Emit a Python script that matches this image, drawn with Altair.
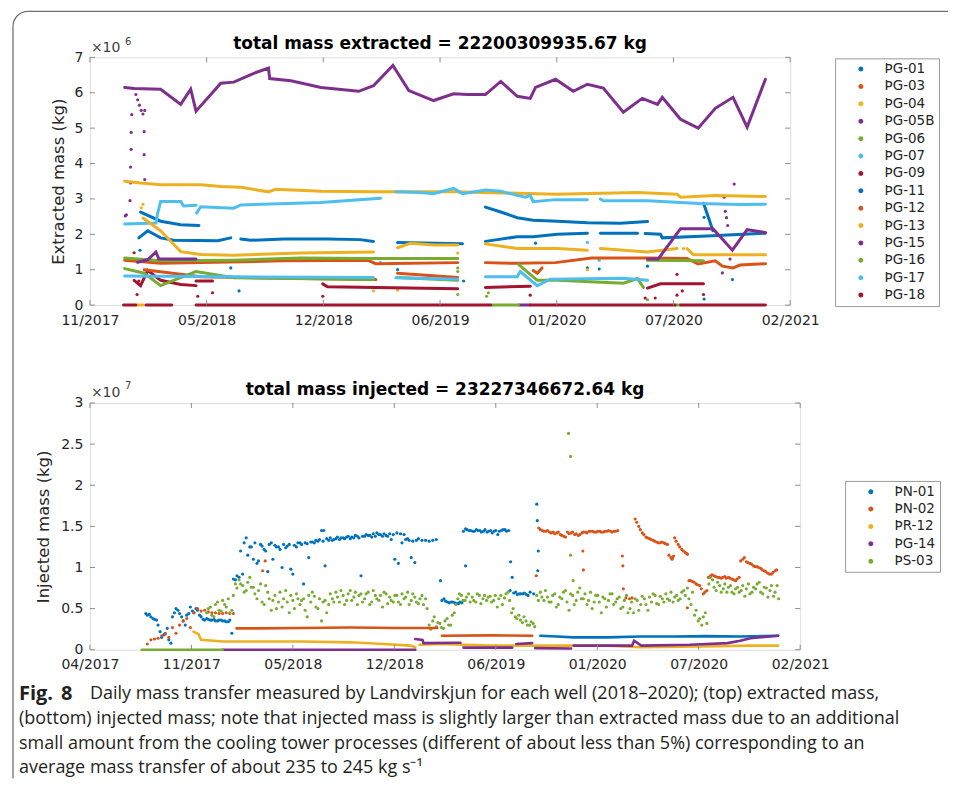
import altair as alt
import pandas as pd

# ------------------------------------------------------------------ categories / colours
TOP_WELLS = ["ÞG-01", "ÞG-03", "ÞG-04", "ÞG-05B", "ÞG-06", "ÞG-07", "ÞG-09",
             "ÞG-11", "ÞG-12", "ÞG-13", "ÞG-15", "ÞG-16", "ÞG-17", "ÞG-18"]
BOT_WELLS = ["ÞN-01", "ÞN-02", "ÞR-12", "ÞG-14", "ÞS-03"]
MATLAB_COLORS = ["#0072BD", "#D95319", "#EDB120", "#7E2F8E", "#77AC30", "#4DBEEE", "#A2142F"]
TOP_COLORS = MATLAB_COLORS + MATLAB_COLORS
BOT_COLORS = MATLAB_COLORS[:5]

# ------------------------------------------------------------------ axes
TOP_X_RANGE = ["2017-11-01", "2021-02-01"]
BOT_X_RANGE = ["2017-04-17", "2021-02-01"]
TOP_TICK_DATES = ["2017-11-01", "2018-05-18", "2018-12-02", "2019-06-18",
                  "2020-01-02", "2020-07-18", "2021-02-01"]
BOT_TICK_DATES = ["2017-04-17"] + TOP_TICK_DATES
TOP_Y_TICKS = [0, 1, 2, 3, 4, 5, 6, 7]          # x 10^6 kg
BOT_Y_TICKS = [0, 0.5, 1, 1.5, 2, 2.5, 3]       # x 10^7 kg

TOP_TITLE = "total mass extracted = 22200309935.67 kg"
BOT_TITLE = "total mass injected = 23227346672.64 kg"
TOP_YLABEL = "Extracted mass (kg)"
BOT_YLABEL = "Injected mass (kg)"
CAPTION_BOLD = ["Fig.", "8"]
CAPTION_LINES = [
    "Daily mass transfer measured by Landvirskjun for each well (2018–2020); (top) extracted mass,",
    "(bottom) injected mass; note that injected mass is slightly larger than extracted mass due to an additional",
    "small amount from the cooling tower processes (different of about less than 5%) corresponding to an",
    "average mass transfer of about 235 to 245 kg s⁻¹",
]

# ------------------------------------------------------------------ top panel: extracted mass (x 10^6 kg)
pg01_lines = [
    [("2018-01-26", 2.63), ("2018-03-01", 2.37), ("2018-04-04", 2.27), ("2018-05-05", 2.25)],
    [("2019-09-03", 2.77), ("2019-09-29", 2.63), ("2019-10-27", 2.47), ("2019-11-23", 2.40),
     ("2020-01-03", 2.37), ("2020-02-23", 2.33), ("2020-04-19", 2.31), ("2020-06-04", 2.36)],
    [("2020-09-07", 2.88), ("2020-09-23", 2.10)],
]
pg03_lines = [
    [("2017-12-30", 1.27), ("2018-03-01", 1.18), ("2018-05-08", 1.20), ("2018-09-26", 1.25),
     ("2019-02-15", 1.27), ("2019-03-01", 1.17), ("2019-07-18", 1.20)],
    [("2019-09-03", 1.20), ("2019-10-27", 1.18), ("2019-12-31", 1.20), ("2020-03-01", 1.33),
     ("2020-06-04", 1.33), ("2020-08-10", 1.32), ("2020-08-29", 1.16), ("2020-09-27", 1.25),
     ("2020-10-09", 1.10), ("2020-10-27", 1.05), ("2020-11-08", 1.13), ("2020-12-21", 1.17)],
]
pg04_lines = [
    [("2017-12-30", 3.50), ("2018-01-26", 3.45), ("2018-03-01", 3.40), ("2018-05-08", 3.40),
     ("2018-06-11", 3.35), ("2018-07-15", 3.33), ("2018-08-31", 3.20), ("2018-09-12", 3.27),
     ("2018-11-28", 3.22), ("2019-02-25", 3.20), ("2019-07-11", 3.20), ("2019-09-29", 3.17),
     ("2019-12-31", 3.13), ("2020-05-18", 3.18), ("2020-07-24", 3.13), ("2020-07-30", 3.05),
     ("2020-09-27", 3.10), ("2020-12-21", 3.07)],
]
pg05b_lines = [
    [("2017-12-30", 6.15), ("2018-01-15", 6.12), ("2018-03-01", 6.10), ("2018-04-04", 5.67),
     ("2018-04-21", 6.10), ("2018-04-30", 5.48), ("2018-06-11", 6.27), ("2018-07-03", 6.30),
     ("2018-08-06", 6.55), ("2018-08-31", 6.70), ("2018-09-02", 6.40), ("2018-10-08", 6.34),
     ("2018-11-28", 6.15), ("2019-01-31", 6.04), ("2019-02-25", 6.20), ("2019-03-30", 6.77),
     ("2019-04-26", 6.06), ("2019-06-07", 5.78), ("2019-07-11", 5.97), ("2019-08-04", 5.95),
     ("2019-09-03", 5.95), ("2019-09-29", 6.32), ("2019-10-27", 5.90), ("2019-11-18", 5.84),
     ("2019-11-27", 6.15), ("2019-12-31", 6.38), ("2020-01-30", 6.04), ("2020-02-23", 6.24),
     ("2020-03-21", 6.13), ("2020-04-24", 5.45), ("2020-05-26", 5.84), ("2020-06-21", 5.67),
     ("2020-06-29", 5.87), ("2020-07-30", 5.25), ("2020-08-29", 5.00), ("2020-09-27", 5.56),
     ("2020-10-27", 5.87), ("2020-11-20", 5.03), ("2020-12-21", 6.38)],
]
pg06_lines = [
    [("2017-12-30", 1.33), ("2018-03-01", 1.25), ("2018-07-03", 1.27), ("2018-10-25", 1.33),
     ("2019-02-15", 1.32), ("2019-07-18", 1.32)],
    [("2020-06-04", 1.27), ("2020-09-07", 1.25)],
]
pg07_lines = [
    [("2017-12-30", 2.29), ("2018-02-21", 2.32), ("2018-02-24", 2.60), ("2018-03-01", 2.93),
     ("2018-04-04", 2.93), ("2018-04-09", 2.80), ("2018-04-30", 2.82)],
    [("2018-05-01", 2.60), ("2018-05-08", 2.78), ("2018-07-03", 2.74), ("2018-07-15", 2.83),
     ("2018-11-28", 2.90), ("2019-03-09", 3.02)],
    [("2019-04-04", 3.20), ("2019-05-16", 3.18), ("2019-06-07", 3.15), ("2019-07-11", 3.30),
     ("2019-07-26", 3.15), ("2019-09-03", 3.25), ("2019-09-29", 3.22), ("2019-10-27", 3.10),
     ("2019-11-10", 3.05), ("2019-11-18", 3.10), ("2019-11-23", 2.92), ("2019-12-31", 2.98),
     ("2020-02-23", 2.98)],
    [("2020-03-16", 3.00), ("2020-03-21", 2.95), ("2020-06-04", 2.95), ("2020-07-30", 2.90),
     ("2020-09-01", 2.87), ("2020-11-08", 2.84), ("2020-12-21", 2.85)],
]
pg09_lines = [
    [("2018-01-15", 0.70), ("2018-01-26", 0.55), ("2018-02-07", 0.98), ("2018-03-01", 0.70),
     ("2018-04-04", 0.58), ("2018-04-30", 0.55)],
    [("2018-04-30", 0.68), ("2018-05-28", 0.68)],
]
pg11_lines = [
    [("2018-01-23", 1.90), ("2018-02-07", 2.10), ("2018-03-01", 1.90), ("2018-03-23", 1.83),
     ("2018-06-06", 1.82), ("2018-06-28", 1.90)],
    [("2018-07-15", 1.87), ("2018-08-01", 1.83), ("2018-09-26", 1.87), ("2018-12-09", 1.87),
     ("2019-02-03", 1.85), ("2019-02-25", 1.80)],
    [("2019-04-07", 1.77), ("2019-07-26", 1.73)],
    [("2019-09-03", 1.80), ("2019-10-27", 1.93), ("2019-11-23", 1.93), ("2020-01-03", 2.00),
     ("2020-02-23", 2.03)],
    [("2020-03-16", 2.03), ("2020-05-18", 2.03)],
    [("2020-05-31", 2.02), ("2020-06-26", 2.00), ("2020-06-29", 1.90), ("2020-09-13", 1.95),
     ("2020-12-21", 2.03)],
]
pg12_lines = [
    [("2018-02-01", 1.00), ("2018-05-08", 0.80), ("2018-10-25", 0.75), ("2019-03-01", 0.72)],
    [("2019-04-07", 0.90), ("2019-07-18", 0.78)],
    [("2019-11-23", 0.98), ("2019-11-30", 0.90), ("2019-12-08", 1.05)],
]
pg13_lines = [
    [("2018-01-30", 2.46), ("2018-03-01", 2.10), ("2018-04-04", 1.51), ("2018-05-08", 1.43),
     ("2018-07-03", 1.41), ("2018-10-25", 1.47), ("2019-02-25", 1.50)],
    [("2019-04-07", 1.62), ("2019-04-29", 1.75), ("2019-06-07", 1.70), ("2019-07-18", 1.70)],
    [("2019-09-03", 1.73), ("2019-10-27", 1.60), ("2020-01-03", 1.60), ("2020-02-23", 1.55)],
    [("2020-03-16", 1.60), ("2020-06-04", 1.50), ("2020-07-24", 1.60)],
    [("2020-08-10", 1.60), ("2020-08-21", 1.42), ("2020-12-21", 1.42)],
    [("2018-01-18", 0.0), ("2018-01-30", 0.0)],
]
pg15_lines = [
    [("2018-01-21", 1.21), ("2018-02-07", 1.28), ("2018-02-21", 1.50), ("2018-02-26", 1.30),
     ("2018-04-30", 1.30)],
    [("2020-06-04", 1.30), ("2020-06-22", 1.30), ("2020-07-30", 2.16), ("2020-09-23", 2.16),
     ("2020-10-26", 1.55), ("2020-11-20", 2.13), ("2020-12-21", 2.05)],
    [("2019-10-29", 0.0), ("2019-11-18", 0.0)],
]
pg16_lines = [
    [("2017-12-30", 1.03), ("2018-02-01", 0.90), ("2018-03-01", 0.55), ("2018-04-30", 0.95),
     ("2018-07-03", 0.77), ("2019-02-25", 0.72)],
    [("2019-04-07", 0.78), ("2019-07-18", 0.70)],
    [("2019-10-29", 1.15), ("2019-11-30", 0.70), ("2020-01-03", 0.70), ("2020-04-24", 0.62),
     ("2020-05-18", 0.75), ("2020-05-28", 0.50)],
    [("2019-09-12", 0.0), ("2019-10-29", 0.0)],
    [("2020-07-21", 0.0), ("2020-07-30", 0.0)],
]
pg17_lines = [
    [("2017-12-30", 0.82), ("2018-07-03", 0.80), ("2019-02-25", 0.78)],
    [("2019-04-04", 0.77), ("2019-07-18", 0.73)],
    [("2019-09-03", 0.80), ("2019-10-27", 0.80), ("2019-11-01", 0.95), ("2019-11-30", 0.55),
     ("2019-12-22", 0.73), ("2020-04-24", 0.76), ("2020-06-04", 0.70)],
]
pg18_lines = [
    [("2018-12-01", 0.60), ("2018-12-09", 0.52), ("2019-07-18", 0.46)],
    [("2019-09-03", 0.50), ("2019-11-18", 0.53)],
    [("2020-06-04", 0.48), ("2020-06-26", 0.60), ("2020-07-24", 0.60), ("2020-09-07", 0.60)],
    [("2017-12-28", 0.0), ("2018-01-18", 0.0)],
    [("2018-02-04", 0.0), ("2018-03-20", 0.0)],
    [("2018-04-30", 0.0), ("2019-09-12", 0.0)],
    [("2019-11-18", 0.0), ("2020-07-21", 0.0)],
    [("2020-07-30", 0.0), ("2020-12-21", 0.0)],
]

# isolated daily values (x 10^6 kg)
pg05b_points = [("2018-01-11", 5.38), ("2018-01-10", 4.88), ("2018-01-10", 4.40), ("2018-01-09", 3.90),
                ("2018-01-09", 3.45), ("2018-01-08", 2.95), ("2018-01-02", 2.55), ("2017-12-31", 2.52),
                ("2018-02-01", 4.90), ("2018-02-01", 4.25), ("2018-02-02", 3.55), ("2018-02-02", 5.50),
                ("2018-01-18", 5.95), ("2018-01-21", 5.80), ("2018-01-24", 5.65), ("2018-01-27", 5.50),
                ("2018-01-30", 5.40)]
pg15_points = [("2020-10-09", 0.91), ("2020-10-12", 3.05), ("2020-10-14", 2.65), ("2020-10-16", 2.47),
               ("2020-10-18", 2.25), ("2020-10-22", 1.30), ("2020-10-29", 3.42)]
pg01_points = [("2018-01-25", 1.55), ("2018-06-28", 1.05), ("2018-07-12", 0.40), ("2019-04-07", 1.00),
               ("2019-07-28", 0.68), ("2019-11-27", 1.75), ("2020-02-23", 1.05), ("2020-03-14", 1.02),
               ("2020-06-04", 1.10), ("2020-09-08", 2.48), ("2020-10-26", 0.72), ("2020-09-08", 0.17)]
pg18_points = [("2018-01-15", 1.48), ("2018-01-23", 0.68), ("2018-01-20", 0.30), ("2018-05-03", 0.25),
               ("2018-05-28", 0.35), ("2018-12-01", 0.25), ("2019-11-18", 0.28), ("2020-05-31", 0.20),
               ("2020-06-17", 0.20), ("2020-07-24", 0.87), ("2020-07-24", 0.28), ("2020-08-02", 0.40),
               ("2020-09-07", 0.30)]
pg13_points = [("2019-07-18", 1.47), ("2019-02-25", 0.40), ("2019-04-07", 0.42), ("2020-02-23", 1.00),
               ("2020-08-04", 1.60), ("2018-01-30", 2.85), ("2018-01-27", 2.75)]
pg17_points = [("2019-03-09", 1.20), ("2020-02-23", 1.77), ("2020-03-14", 1.27)]
pg16_points = [("2019-07-18", 0.95), ("2019-07-18", 1.05), ("2019-07-18", 0.30), ("2020-06-04", 0.15),
               ("2019-09-05", 0.25), ("2019-09-08", 0.35)]

# ------------------------------------------------------------------ bottom panel: injected mass (x 10^7 kg)
# ÞN-01 readings, one per week (two interleaved reading sequences)
pn01_week_start = "2017-08-04"
pn01_weekly = [0.44, 0.43, 0.38, 0.36, 0.22, 0.18, 0.26, 0.08, 0.45, 0.48,
               0.40, 0.30, 0.44, 0.47, 0.50, 0.42, 0.37, 0.38, 0.36, 0.37,
               0.35, 0.36, 0.35, 0.34, 0.20, 0.85, 0.88, 0.92, 1.36, 1.25,
               1.10, 1.05, 1.28, 1.22, 0.95, 1.30, 1.27, 1.25, 1.00, 1.24,
               1.28, 0.92, 1.25, 1.30, 0.80, 1.29, 1.31, 1.30, 1.32, 1.45,
               1.02, 1.33, 1.33, 1.35, 1.34, 1.36, 1.37, 1.35, 1.36, 1.38,
               0.90, 1.38, 1.39, 1.37, 1.38, 1.40, 1.38, 1.39, 1.41, 1.40,
               1.42, 1.41, 1.40, 1.35, 1.12, 1.06, 1.35, 1.33, 1.33, 1.32,
               1.33, 1.34]
pn01_week_start_b = "2017-08-07"
pn01_weekly_b = [0.42, 0.40, 0.37, 0.30, 0.15, 0.20, 0.12, 0.40, 0.50, 0.44,
                 0.35, 0.42, 0.52, 0.45, 0.48, 0.40, 0.36, 0.37, 0.36, 0.35,
                 0.36, 0.35, 0.34, 0.36, 0.86, 0.90, 1.20, 1.30, 1.15, 1.25,
                 1.30, 1.08, 1.26, 1.20, 1.28, 1.10, 1.25, 1.22, 1.28, 1.26,
                 0.98, 1.27, 1.30, 1.28, 1.30, 1.12, 1.31, 1.33, 1.34, 1.32,
                 1.35, 1.36, 1.34, 1.37, 1.36, 1.35, 1.38, 1.37, 1.39, 1.36,
                 1.38, 1.40, 1.39, 1.41, 1.42, 1.40, 1.41, 1.38, 1.34, 1.10,
                 1.05, 1.30, 1.34, 1.33, 1.32, 1.33]
pn01_week_start_2 = "2019-03-02"
pn01_weekly_2 = [0.84, 0.62, 0.58, 0.58, 0.57, 0.56, 0.57, 1.47, 1.45, 1.44,
                 1.46, 1.45, 1.44, 1.43, 1.45, 1.44, 1.40, 1.45, 1.46, 1.45,
                 0.88, 0.70, 0.68, 0.68, 0.67, 0.70, 0.68]
pn01_week_start_2b = "2019-03-05"
pn01_weekly_2b = [0.60, 0.59, 0.57, 0.58, 0.56, 0.58, 1.44, 1.46, 1.45, 1.44,
                  1.45, 1.43, 1.46, 1.44, 1.42, 1.45, 1.44, 1.46, 1.44, 0.72,
                  0.69, 0.67, 0.68, 0.69, 0.66]
pn01_points = [("2019-09-06", 1.77), ("2019-09-07", 1.57), ("2019-09-08", 0.96), ("2019-09-09", 1.20),
               ("2019-04-20", 1.02), ("2019-07-17", 1.07), ("2018-07-17", 1.45)]
pn01_lines = [[("2019-09-13", 0.17), ("2019-10-15", 0.16), ("2019-11-17", 0.15), ("2020-01-22", 0.15),
               ("2020-03-26", 0.16), ("2020-06-01", 0.16), ("2020-08-01", 0.165), ("2020-10-07", 0.16),
               ("2020-12-20", 0.17)]]

pn02_week_start = "2017-08-07"
pn02_weekly = [0.07, 0.12, 0.13, 0.14, 0.17, 0.19, 0.15, 0.27, 0.20, 0.30,
               0.35, 0.38, 0.27, 0.45, 0.50, 0.47, 0.48, 0.46, 0.45, 0.45,
               0.44, 0.44, 0.45, 0.44, 0.44]
pn02_week_start_2 = "2019-09-10"
pn02_weekly_2 = [1.48, 1.45, 1.44, 1.43, 1.43, 1.42, 1.40, 1.38, 1.43, 1.42,
                 1.40, 1.39, 1.42, 1.43, 1.44, 1.44, 1.43, 1.44, 1.43, 1.44,
                 1.44, 1.44, 1.45]
pn02_week_start_2b = "2019-09-13"
pn02_weekly_2b = [1.46, 1.44, 1.45, 1.42, 1.41, 1.43, 1.39, 1.37, 1.41, 1.43,
                  1.41, 1.40, 1.43, 1.42, 1.44, 1.43, 1.44, 1.43, 1.44, 1.45,
                  1.43, 1.44]
pn02_week_start_3 = "2020-03-16"
pn02_weekly_3 = [1.59, 1.50, 1.42, 1.37, 1.35, 1.33, 1.31, 1.30, 1.30, 1.28,
                 1.12, 1.36, 1.28, 1.22, 1.18, 0.84, 0.83, 0.80, 0.78, 0.68,
                 0.72, 0.90, 0.90, 0.88, 0.87, 0.89, 0.88, 0.86, 0.84, 0.88,
                 1.10, 1.07, 1.05, 1.02, 1.01, 0.99, 0.96, 0.93, 0.92, 0.96]
pn02_week_start_3b = "2020-03-19"
pn02_weekly_3b = [1.55, 1.46, 1.40, 1.36, 1.34, 1.32, 1.30, 1.31, 1.29, 1.15,
                  1.12, 1.32, 1.25, 1.20, 1.17, 0.84, 0.82, 0.79, 0.74, 0.70,
                  0.88, 0.91, 0.89, 0.88, 0.88, 0.87, 0.87, 0.85, 0.86, 1.08,
                  1.12, 1.06, 1.04, 1.01, 1.00, 0.97, 0.95, 0.92, 0.94, 0.97]
pn02_points = [("2020-05-27", 1.10), ("2020-05-30", 1.14), ("2020-06-26", 1.16), ("2019-12-05", 1.20),
               ("2019-12-06", 0.97), ("2019-09-05", 0.90), ("2020-02-20", 1.14), ("2020-02-21", 1.02),
               ("2020-02-22", 0.74), ("2020-02-27", 0.63), ("2020-03-05", 0.62), ("2020-03-10", 0.63),
               ("2020-06-26", 0.51), ("2018-03-25", 1.08), ("2018-03-20", 0.96)]
pn02_lines = [
    [("2018-01-28", 0.26), ("2018-03-10", 0.26), ("2018-06-02", 0.265), ("2018-09-08", 0.27),
     ("2018-12-14", 0.265), ("2019-02-24", 0.265)],
    [("2019-03-05", 0.17), ("2019-06-08", 0.175), ("2019-08-28", 0.17)],
]
pr12_lines = [
    [("2017-11-05", 0.22), ("2017-11-15", 0.19), ("2017-11-20", 0.12), ("2018-01-01", 0.10),
     ("2018-06-02", 0.10), ("2018-09-08", 0.09), ("2018-11-11", 0.07), ("2019-01-03", 0.05),
     ("2019-01-12", 0.03)],
    [("2019-01-20", 0.06), ("2019-03-02", 0.07), ("2019-06-08", 0.05), ("2019-09-13", 0.05),
     ("2020-01-22", 0.05), ("2020-03-26", 0.03), ("2020-07-21", 0.04), ("2020-10-27", 0.05),
     ("2020-12-20", 0.05)],
]
pg14_lines = [
    [("2018-01-01", 0.0), ("2019-01-12", 0.0)],
    [("2019-01-12", 0.13), ("2019-01-26", 0.12), ("2019-01-28", 0.08), ("2019-04-10", 0.085)],
    [("2019-04-16", 0.025), ("2019-07-20", 0.025)],
    [("2019-07-28", 0.07), ("2019-08-28", 0.08)],
    [("2019-09-03", 0.02), ("2019-11-12", 0.015)],
    [("2019-11-17", 0.05), ("2020-03-10", 0.05), ("2020-03-14", 0.11), ("2020-03-28", 0.05),
     ("2020-07-01", 0.06), ("2020-09-12", 0.08), ("2020-10-07", 0.11), ("2020-10-27", 0.14),
     ("2020-12-20", 0.17)],
]
ps03_lines = [[("2017-07-27", 0.0), ("2018-01-01", 0.0)]]
ps03_week_start = "2017-12-01"
ps03_weekly = [0.45, 0.52, 0.40, 0.58, 0.47, 0.55, 0.62, 0.48, 0.80, 0.85,
               0.78, 0.72, 0.88, 0.76, 0.62, 0.80, 0.55, 0.70, 0.48, 0.66,
               0.58, 0.52, 0.72, 0.45, 0.60, 0.68, 0.55, 0.62, 0.40, 0.58,
               0.65, 0.50, 0.35, 0.60, 0.55, 0.62, 0.70, 0.58, 0.66, 0.60,
               0.72, 0.64, 0.55, 0.68, 0.62, 0.70, 0.58, 0.66, 0.60, 0.52,
               0.68, 0.64, 0.58, 0.66, 0.55, 0.62, 0.70, 0.60, 0.64, 0.56,
               0.66, 0.62, 0.30, 0.35, 0.28, 0.32, 0.26, 0.38, 0.30, 0.45,
               0.62, 0.66, 0.60, 0.68, 0.64, 0.58, 0.66, 0.62, 0.60, 0.65,
               0.60, 0.52, 0.66, 0.63, 0.70, 0.45, 0.40, 0.42, 0.33, 0.35,
               0.30, 0.32, 0.66, 0.70, 0.60, 0.64, 0.58, 0.68, 0.55, 0.62,
               0.72, 0.48, 0.66, 0.60, 0.75, 0.62, 0.55, 0.70, 0.58, 0.66,
               0.45, 0.62, 0.60, 0.68, 0.58, 0.64, 0.52, 0.66, 0.50, 0.45,
               0.60, 0.55, 0.62, 0.48, 0.58, 0.66, 0.55, 0.62, 0.68, 0.60,
               0.58, 0.66, 0.62, 0.72, 0.75, 0.55, 0.42, 0.35, 0.30, 0.45,
               0.80, 0.85, 0.72, 0.78, 0.74, 0.70, 0.78, 0.68, 0.76, 0.72,
               0.65, 0.80, 0.70, 0.74, 0.82, 0.68, 0.75, 0.72, 0.65, 0.78]
ps03_week_start_b = "2017-12-04"
ps03_weekly_b = [0.50, 0.42, 0.55, 0.48, 0.60, 0.52, 0.45, 0.66, 0.75, 0.80,
                 0.70, 0.82, 0.76, 0.68, 0.72, 0.58, 0.78, 0.62, 0.60, 0.50,
                 0.70, 0.62, 0.58, 0.66, 0.50, 0.62, 0.60, 0.48, 0.66, 0.70,
                 0.52, 0.62, 0.58, 0.45, 0.68, 0.58, 0.64, 0.72, 0.55, 0.68,
                 0.60, 0.70, 0.66, 0.58, 0.68, 0.55, 0.72, 0.62, 0.66, 0.70,
                 0.56, 0.60, 0.66, 0.58, 0.68, 0.64, 0.55, 0.68, 0.58, 0.62,
                 0.55, 0.50, 0.25, 0.40, 0.33, 0.27, 0.35, 0.30, 0.42, 0.55,
                 0.68, 0.60, 0.64, 0.58, 0.60, 0.68, 0.56, 0.66, 0.64, 0.58,
                 0.66, 0.62, 0.55, 0.68, 0.60, 0.50, 0.38, 0.36, 0.40, 0.30,
                 0.34, 0.28, 0.60, 0.64, 0.72, 0.58, 0.66, 0.52, 0.64, 0.70,
                 0.58, 0.68, 0.55, 0.70, 0.62, 0.68, 0.60, 0.50, 0.66, 0.58,
                 0.64, 0.52, 0.68, 0.55, 0.62, 0.50, 0.60, 0.45, 0.58, 0.62,
                 0.48, 0.65, 0.55, 0.64, 0.68, 0.56, 0.65, 0.58, 0.62, 0.70,
                 0.64, 0.60, 0.70, 0.66, 0.62, 0.70, 0.48, 0.38, 0.40, 0.32,
                 0.88, 0.76, 0.82, 0.70, 0.80, 0.76, 0.70, 0.74, 0.70, 0.78,
                 0.74, 0.68, 0.76, 0.80, 0.70, 0.76, 0.64, 0.78, 0.70, 0.62]
ps03_points = [("2019-11-07", 2.63), ("2019-11-11", 2.35), ("2019-11-11", 1.15), ("2019-11-16", 0.84)]

# ------------------------------------------------------------------ tables
TOP_LINE_SERIES = {"ÞG-01": pg01_lines, "ÞG-03": pg03_lines, "ÞG-04": pg04_lines, "ÞG-05B": pg05b_lines,
                   "ÞG-06": pg06_lines, "ÞG-07": pg07_lines, "ÞG-09": pg09_lines, "ÞG-11": pg11_lines,
                   "ÞG-12": pg12_lines, "ÞG-13": pg13_lines, "ÞG-15": pg15_lines, "ÞG-16": pg16_lines,
                   "ÞG-17": pg17_lines, "ÞG-18": pg18_lines}
TOP_POINT_SERIES = {"ÞG-01": pg01_points, "ÞG-05B": pg05b_points, "ÞG-13": pg13_points,
                    "ÞG-15": pg15_points, "ÞG-16": pg16_points, "ÞG-17": pg17_points, "ÞG-18": pg18_points}
BOT_LINE_SERIES = {"ÞN-01": pn01_lines, "ÞN-02": pn02_lines, "ÞR-12": pr12_lines,
                   "ÞG-14": pg14_lines, "ÞS-03": ps03_lines}
BOT_WEEKLY_SERIES = {
    "ÞN-01": [(pn01_week_start, pn01_weekly), (pn01_week_start_b, pn01_weekly_b),
              (pn01_week_start_2, pn01_weekly_2), (pn01_week_start_2b, pn01_weekly_2b)],
    "ÞN-02": [(pn02_week_start, pn02_weekly), (pn02_week_start_2, pn02_weekly_2),
              (pn02_week_start_2b, pn02_weekly_2b), (pn02_week_start_3, pn02_weekly_3),
              (pn02_week_start_3b, pn02_weekly_3b)],
    "ÞS-03": [(ps03_week_start, ps03_weekly), (ps03_week_start_b, ps03_weekly_b)],
}
BOT_POINT_SERIES = {"ÞN-01": pn01_points, "ÞN-02": pn02_points, "ÞS-03": ps03_points}


def lines_table(series, order):
    rows = []
    for well in order:
        for i, seg in enumerate(series.get(well, [])):
            for d, v in seg:
                rows.append({"well": well, "seg": f"{well}#{i}", "date": d, "v": v})
    df = pd.DataFrame(rows)
    df["date"] = pd.to_datetime(df["date"])
    return df


def points_table(point_series, weekly_series, order):
    rows = []
    for well in order:
        for start, vals in weekly_series.get(well, []):
            t0 = pd.Timestamp(start)
            for k, v in enumerate(vals):
                rows.append({"well": well, "date": t0 + pd.Timedelta(days=7 * k), "v": v})
        for d, v in point_series.get(well, []):
            rows.append({"well": well, "date": pd.Timestamp(d), "v": v})
    return pd.DataFrame(rows)


top_lines_df = lines_table(TOP_LINE_SERIES, TOP_WELLS)
top_pts_df = points_table(TOP_POINT_SERIES, {}, TOP_WELLS)
bot_lines_df = lines_table(BOT_LINE_SERIES, BOT_WELLS)
bot_pts_df = points_table(BOT_POINT_SERIES, BOT_WEEKLY_SERIES, BOT_WELLS)

# ------------------------------------------------------------------ styling helpers
FONT = "DejaVu Sans"
CAP_FONT = "Open Sans"
AXC = "#262626"
FRAME = "#707070"
BOX = "#8c8c8c"


def dt(s):
    y, m, d = (int(p) for p in s.split("-"))
    return alt.DateTime(year=y, month=m, date=d)


def one():
    return alt.Data(values=[{"k": 0}])


def text(t, x, y, size, weight="normal", align="left", font=FONT, color=AXC, baseline="middle"):
    return alt.Chart(one()).mark_text(
        text=t, font=font, fontSize=size, fontWeight=weight, align=align,
        baseline=baseline, color=color
    ).encode(x=alt.value(x), y=alt.value(y))


def panel(lines_df, pts_df, wells, colors, xrange, xticks, yticks, ymax, w, h,
          ytitle, ytitle_x, title, exp_y, legend_xy, line_w, pt_size):
    xs = alt.Scale(domain=[dt(xrange[0]), dt(xrange[1])], nice=False)
    ys = alt.Scale(domain=[0, ymax], nice=False, zero=True)
    x_axis = alt.Axis(values=[dt(s) for s in xticks], format="%m/%Y", title=None, grid=False,
                      ticks=False, domain=False, labelFont=FONT, labelFontSize=14, labelColor=AXC,
                      labelPadding=8, labelFlush=False, labelOverlap=False)
    y_axis = alt.Axis(values=yticks, format="~g", title=ytitle, grid=False, ticks=False, domain=False,
                      labelFont=FONT, labelFontSize=14, labelColor=AXC, labelPadding=7,
                      titleFont=FONT, titleFontSize=16.5, titleFontWeight="normal", titleColor=AXC,
                      titleX=ytitle_x, titleY=h / 2, titleAngle=270, titleAlign="center",
                      titleBaseline="middle")
    legend = alt.Legend(title=None, orient="none", legendX=legend_xy[0], legendY=legend_xy[1],
                        symbolType="circle", symbolSize=12, labelFont=FONT, labelFontSize=13.5,
                        labelColor=AXC, rowPadding=2.4, padding=4, symbolOffset=15, labelOffset=17,
                        strokeColor="#999", fillColor="white", labelLimit=300)
    cscale = alt.Scale(domain=wells, range=colors)
    X = alt.X("date:T", scale=xs, axis=x_axis)
    Y = alt.Y("v:Q", scale=ys, axis=y_axis)

    pts = alt.Chart(pts_df).mark_circle(size=pt_size, opacity=1).encode(
        x=X, y=Y, color=alt.Color("well:N", scale=cscale, legend=legend, sort=wells),
    )
    lines = alt.Chart(lines_df).mark_line(strokeWidth=line_w, strokeCap="round").encode(
        x=X, y=Y, color=alt.Color("well:N", scale=cscale, legend=legend, sort=wells),
        detail="seg:N",
    )
    xt_df = pd.DataFrame({"date": pd.to_datetime(xticks)})
    yt_df = pd.DataFrame({"v": yticks})
    xt_bot = alt.Chart(xt_df).mark_rule(color=BOX).encode(x=X, y=alt.value(h - 5), y2=alt.value(h))
    xt_top = alt.Chart(xt_df).mark_rule(color=BOX).encode(x=X, y=alt.value(0), y2=alt.value(5))
    yt_left = alt.Chart(yt_df).mark_rule(color=BOX).encode(y=Y, x=alt.value(0), x2=alt.value(5))
    yt_right = alt.Chart(yt_df).mark_rule(color=BOX).encode(y=Y, x=alt.value(w - 5), x2=alt.value(w))
    ttl = text(title, w / 2, -13, 17, weight="bold", align="center", color="#000000")
    ex1 = text("×10", 1, exp_y[0], 14, color="#404040")
    ex2 = text(exp_y[2], 35, exp_y[1], 10, color="#404040")
    return [pts, lines, xt_bot, xt_top, yt_left, yt_right, ttl, ex1, ex2]


TW, TH = 701, 248
BW, BH = 711, 247

top_layers = panel(top_lines_df, top_pts_df, TOP_WELLS, TOP_COLORS, TOP_X_RANGE, TOP_TICK_DATES,
                   TOP_Y_TICKS, 7, TW, TH, TOP_YLABEL, -31, TOP_TITLE, (-9, -15, "6"), (746, 1), 3, 10)
# figure frame (rounded top-left corner) + invisible anchor fixing the page origin
frame = [
    alt.Chart(one()).mark_rule(color=FRAME, strokeWidth=1.3).encode(
        x=alt.value(-62), x2=alt.value(859), y=alt.value(-46)),
    alt.Chart(one()).mark_rule(color=FRAME, strokeWidth=1.3).encode(
        x=alt.value(-77), y=alt.value(-31), y2=alt.value(722)),
    alt.Chart(one()).mark_arc(color=FRAME).encode(
        x=alt.value(-62), y=alt.value(-31), theta=alt.value(4.7124), theta2=alt.value(6.2832),
        radius=alt.value(15.65), radius2=alt.value(14.35)),
    alt.Chart(one()).mark_rule(color="white", opacity=0, strokeWidth=0.1).encode(
        x=alt.value(-81), x2=alt.value(-80), y=alt.value(-48)),
]
top = alt.layer(*(top_layers + frame)).properties(width=TW, height=TH)

bot_layers = panel(bot_lines_df, bot_pts_df, BOT_WELLS, BOT_COLORS, BOT_X_RANGE, BOT_TICK_DATES,
                   BOT_Y_TICKS, 3, BW, BH, BOT_YLABEL, -46, BOT_TITLE, (-10, -17, "7"), (756, 78), 2.6, 10)
CAP_SIZE = 18
CAP_COLOR = "#231f20"
caption = [
    text(CAPTION_BOLD[0], -71, 291, 20, weight="bold", font=CAP_FONT, color=CAP_COLOR),
    text(CAPTION_BOLD[1], -29, 291, 20, weight="bold", font=CAP_FONT, color=CAP_COLOR),
    text(CAPTION_LINES[0], 0, 291, CAP_SIZE, font=CAP_FONT, color=CAP_COLOR),
    text(CAPTION_LINES[1], -71, 316, CAP_SIZE, font=CAP_FONT, color=CAP_COLOR),
    text(CAPTION_LINES[2], -71, 341, CAP_SIZE, font=CAP_FONT, color=CAP_COLOR),
    text(CAPTION_LINES[3], -71, 365, CAP_SIZE, font=CAP_FONT, color=CAP_COLOR),
]
bottom = alt.layer(*(bot_layers + caption)).properties(width=BW, height=BH)

chart = alt.vconcat(top, bottom, spacing=98, bounds="flush").resolve_scale(
    x="independent", y="independent", color="independent"
).properties(
    padding=0
).configure_view(stroke=BOX, strokeWidth=1).configure(background="white")

chart.save("out.html", embed_options={"renderer": "svg", "actions": False})
